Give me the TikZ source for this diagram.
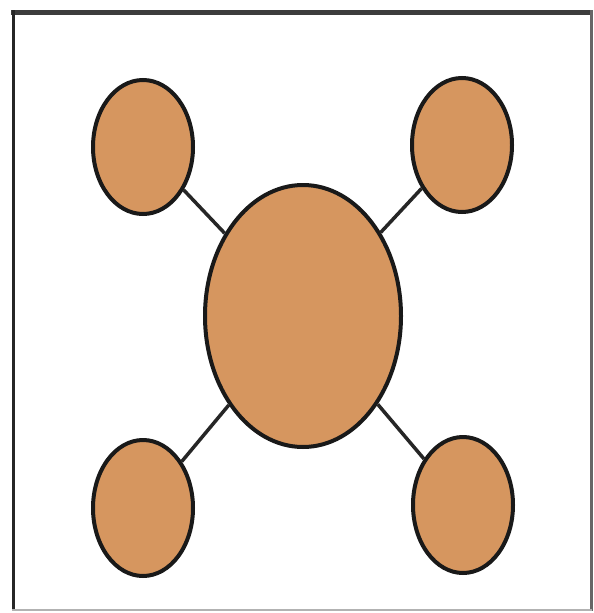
\documentclass[tikz,border=0pt]{standalone}
\usetikzlibrary{shapes.geometric}
\definecolor{blobfill}{RGB}{214,150,95}
\definecolor{framegray}{RGB}{60,60,60}
\begin{document}
\begin{tikzpicture}[x=1pt,y=-1pt,
  blob/.style={ellipse,draw=black!90,line width=4pt,fill=blobfill,inner sep=0pt},
  link/.style={draw=black!85,line width=3.5pt}]
\useasboundingbox (0,0) rectangle (594,613);
\fill[white] (0,0) rectangle (594,613);
% frame
\draw[framegray,line width=5pt] (11,12.5) -- (591,12.5);
\draw[black!85,line width=3.5pt] (13.5,10) -- (13.5,611);
\draw[black!60,line width=2.5pt] (591.5,10) -- (591.5,611);
\draw[black!30,line width=1.5pt] (12,610) -- (592,610);
% nodes
\node[blob,minimum width=196pt,minimum height=262pt] (c) at (303,316) {};
\node[blob,minimum width=100pt,minimum height=134pt] (tl) at (143,147) {};
\node[blob,minimum width=100pt,minimum height=134pt] (tr) at (462,145) {};
\node[blob,minimum width=100pt,minimum height=136pt] (bl) at (143,508) {};
\node[blob,minimum width=100pt,minimum height=136pt] (br) at (463,505) {};
% connectors
\path[link] (tl) -- (c);
\path[link] (tr) -- (c);
\path[link] (bl) -- (c);
\path[link] (br) -- (c);
\end{tikzpicture}
\end{document}
